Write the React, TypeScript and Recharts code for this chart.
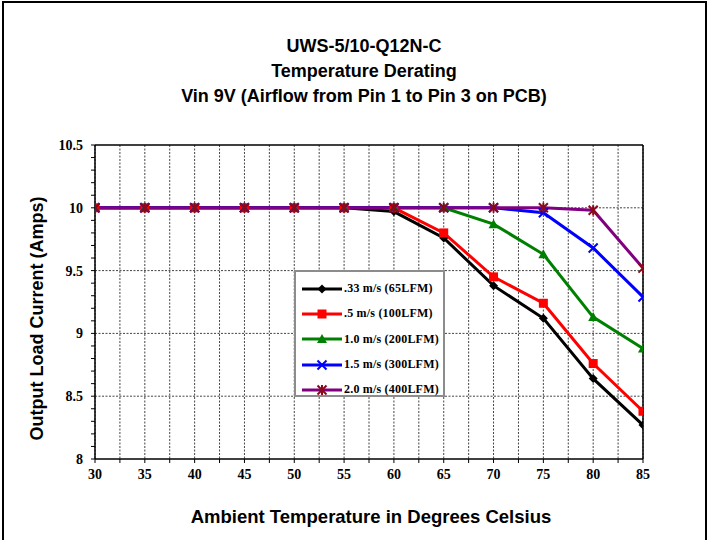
import React from 'react';
import { LineChart, Line, XAxis, YAxis, CartesianGrid, ReferenceLine, Legend } from 'recharts';

const temps = [30, 35, 40, 45, 50, 55, 60, 65, 70, 75, 80, 85];
const s033 = [10, 10, 10, 10, 10, 10, 9.97, 9.76, 9.38, 9.12, 8.64, 8.27];
const s05 = [10, 10, 10, 10, 10, 10, 10, 9.8, 9.45, 9.24, 8.76, 8.38];
const s10 = [10, 10, 10, 10, 10, 10, 10, 10, 9.87, 9.63, 9.13, 8.88];
const s15 = [10, 10, 10, 10, 10, 10, 10, 10, 10, 9.96, 9.68, 9.29];
const s20 = [10, 10, 10, 10, 10, 10, 10, 10, 10, 10, 9.98, 9.52];

const xTicks = [30, 32.5, 35, 37.5, 40, 42.5, 45, 47.5, 50, 52.5, 55, 57.5, 60, 62.5, 65, 67.5, 70, 72.5, 75, 77.5, 80, 82.5, 85];
const yTicks = [8, 8.1, 8.2, 8.3, 8.4, 8.5, 8.6, 8.7, 8.8, 8.9, 9, 9.1, 9.2, 9.3, 9.4, 9.5, 9.6, 9.7, 9.8, 9.9, 10, 10.1, 10.2, 10.3, 10.4, 10.5];
const yGrid = [8.5, 9, 9.5, 10];

const seriesNames = ['.33 m/s (65LFM)', '.5 m/s (100LFM)', '1.0 m/s (200LFM)', '1.5 m/s (300LFM)', '2.0 m/s (400LFM)'];
const seriesKeys = ['a', 'b', 'c', 'd', 'e'];
const seriesColors = ['#000000', '#FF0000', '#008000', '#0000FF', '#800080'];
const markerKinds = ['diamond', 'square', 'triangle', 'x', 'star'];

const data = temps.map((t, i) => ({ t, a: s033[i], b: s05[i], c: s10[i], d: s15[i], e: s20[i] }));

function Marker({ kind, cx, cy }: { kind: string; cx: number; cy: number }) {
  if (kind === 'diamond') {
    const r = 4.5;
    return <path d={`M${cx},${cy - r}L${cx + r},${cy}L${cx},${cy + r}L${cx - r},${cy}Z`} fill="#000" />;
  }
  if (kind === 'square') {
    const r = 4.5;
    return <rect x={cx - r} y={cy - r} width={2 * r} height={2 * r} fill="#FF0000" />;
  }
  if (kind === 'triangle') {
    const r = 5;
    return <path d={`M${cx},${cy - r}L${cx + r},${cy + r * 0.8}L${cx - r},${cy + r * 0.8}Z`} fill="#008000" />;
  }
  if (kind === 'x') {
    const r = 4.5;
    return <path d={`M${cx - r},${cy - r}L${cx + r},${cy + r}M${cx - r},${cy + r}L${cx + r},${cy - r}`} stroke="#0000FF" strokeWidth={2} fill="none" />;
  }
  const r = 4.5;
  return (
    <path
      d={`M${cx - r},${cy - r}L${cx + r},${cy + r}M${cx - r},${cy + r}L${cx + r},${cy - r}M${cx},${cy - r - 0.5}L${cx},${cy + r + 0.5}`}
      stroke="#8B0A1A"
      strokeWidth={2}
      fill="none"
    />
  );
}

const makeDot = (kind: string) => (props: any) => {
  const { cx, cy, index } = props;
  if (cx == null || cy == null) return <g key={`${kind}-${index}`} />;
  return (
    <g key={`${kind}-${index}`}>
      <Marker kind={kind} cx={cx} cy={cy} />
    </g>
  );
};

const fmtX = (v: number) => (v % 5 === 0 ? String(v) : '');
const fmtY = (v: number) => (Math.abs(v * 2 - Math.round(v * 2)) < 1e-6 ? String(v) : '');

const titleFont = "'Liberation Sans', Arial, sans-serif";
const serifFont = "'Liberation Serif', 'Times New Roman', serif";

function LegendBox() {
  return (
    <div
      style={{
        width: 151,
        height: 127,
        boxSizing: 'border-box',
        border: '2px solid #8c8c8c',
        background: '#fff',
        paddingTop: 4,
      }}
    >
      {seriesNames.map((name, i) => (
        <div key={name} style={{ height: 25.3, display: 'flex', alignItems: 'center' }}>
          <svg width={48} height={14} style={{ display: 'block', flex: 'none' }}>
            <line x1={6} y1={7} x2={46} y2={7} stroke={seriesColors[i]} strokeWidth={3} />
            <Marker kind={markerKinds[i]} cx={26} cy={7} />
          </svg>
          <span
            style={{
              fontFamily: serifFont,
              fontWeight: 'bold',
              fontSize: 12,
              color: '#000',
              whiteSpace: 'nowrap',
              letterSpacing: 0.2,
            }}
          >
            {name}
          </span>
        </div>
      ))}
    </div>
  );
}

export default function App() {
  return (
    <div style={{ position: 'absolute', left: 0, top: 0, width: 709, height: 540, background: '#fff', overflow: 'hidden' }}>
      <div
        style={{
          position: 'absolute',
          left: 2,
          top: 1,
          width: 701,
          height: 560,
          borderLeft: '2px solid #000',
          borderTop: '2px solid #000',
          borderRight: '2px solid #000',
        }}
      />
      <div
        style={{
          position: 'absolute',
          left: 64,
          top: 34,
          width: 600,
          textAlign: 'center',
          fontFamily: titleFont,
          fontWeight: 'bold',
          fontSize: 18,
          lineHeight: '25px',
          color: '#000',
        }}
      >
        <div>UWS-5/10-Q12N-C</div>
        <div>Temperature Derating</div>
        <div>Vin 9V (Airflow from Pin 1 to Pin 3 on PCB)</div>
      </div>
      <div
        style={{
          position: 'absolute',
          left: 71,
          top: 504,
          width: 600,
          textAlign: 'center',
          fontFamily: titleFont,
          fontWeight: 'bold',
          fontSize: 18.5,
          lineHeight: '25px',
          color: '#000',
        }}
      >
        Ambient Temperature in Degrees Celsius
      </div>
      <div
        style={{
          position: 'absolute',
          left: -163,
          top: 305.5,
          width: 400,
          height: 25,
          textAlign: 'center',
          fontFamily: titleFont,
          fontWeight: 'bold',
          fontSize: 18,
          lineHeight: '25px',
          color: '#000',
          transform: 'rotate(-90deg)',
          transformOrigin: '50% 50%',
          whiteSpace: 'nowrap',
        }}
      >
        Output Load Current (Amps)
      </div>
      <div style={{ position: 'absolute', left: 0, top: 0 }}>
        <LineChart width={709} height={540} data={data} margin={{ top: 145, right: 66, bottom: 51, left: 35 }}>
          <CartesianGrid
            stroke="#444"
            strokeDasharray="2 1.5"
            strokeWidth={1}
            horizontalValues={yGrid}
            horizontal={true}
            vertical={true}
          />
          <XAxis
            dataKey="t"
            type="number"
            domain={[30, 85]}
            ticks={xTicks}
            interval={0}
            tickFormatter={fmtX}
            height={30}
            tickSize={4}
            tickMargin={6}
            axisLine={{ stroke: '#000', strokeWidth: 1.5 }}
            tickLine={{ stroke: '#000', strokeWidth: 1 }}
            tick={{ fill: '#000', fontFamily: serifFont, fontWeight: 'bold', fontSize: 14 }}
            allowDataOverflow
          />
          <YAxis
            type="number"
            domain={[8, 10.5]}
            ticks={yTicks}
            interval={0}
            tickFormatter={fmtY}
            width={60}
            tickSize={4}
            tickMargin={8}
            axisLine={{ stroke: '#000', strokeWidth: 1.5 }}
            tickLine={{ stroke: '#000', strokeWidth: 1 }}
            tick={{ fill: '#000', fontFamily: serifFont, fontWeight: 'bold', fontSize: 14 }}
            allowDataOverflow
          />
          <ReferenceLine y={10.5} stroke="#000" strokeWidth={1.5} />
          <ReferenceLine x={85} stroke="#000" strokeWidth={1.5} />
          {seriesKeys.map((k, i) => (
            <Line
              key={k}
              dataKey={k}
              name={seriesNames[i]}
              type="linear"
              stroke={seriesColors[i]}
              strokeWidth={3}
              dot={makeDot(markerKinds[i])}
              activeDot={false}
              isAnimationActive={false}
            />
          ))}
          <Legend
            layout="horizontal"
            align="center"
            verticalAlign="middle"
            content={() => <LegendBox />}
            wrapperStyle={{ left: 294, top: 270, width: 151, height: 127, bottom: 'auto' }}
          />
        </LineChart>
      </div>
    </div>
  );
}
